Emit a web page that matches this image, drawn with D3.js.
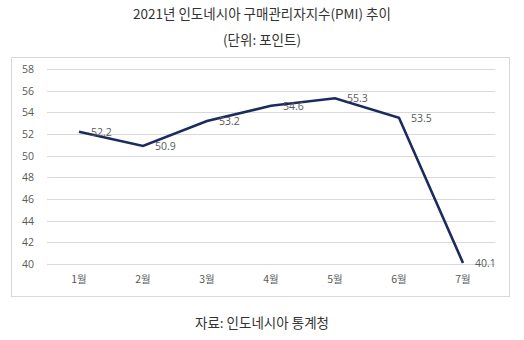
<!DOCTYPE html>
<html>
<head>
<meta charset="utf-8">
<script src="https://cdn.jsdelivr.net/npm/d3@7"></script>
<style>
  html, body { margin: 0; padding: 0; background: #fff; }
  svg { display: block; }
</style>
</head>
<body>
<svg id="chart" width="524" height="340"></svg>
<script>
// Indonesia manufacturing PMI, January–July 2021
const months = ["1월", "2월", "3월", "4월", "5월", "6월", "7월"];
const pmi = [52.2, 50.9, 53.2, 54.6, 55.3, 53.5, 40.1];
const yTicks = [40, 42, 44, 46, 48, 50, 52, 54, 56, 58];

const svg = d3.select("#chart");
const krFont = "'Noto Sans CJK KR', 'Noto Sans', sans-serif";
const numFont = "'Open Sans', 'Noto Sans', sans-serif";

// Titles
svg.append("text").attr("x", 262).attr("y", 19).attr("text-anchor", "middle")
  .attr("font-family", krFont).attr("font-size", 13.5).attr("fill", "#333")
  .text("2021년 인도네시아 구매관리자지수(PMI) 추이");
svg.append("text").attr("x", 262).attr("y", 45).attr("text-anchor", "middle")
  .attr("font-family", krFont).attr("font-size", 13.5).attr("fill", "#333")
  .text("(단위: 포인트)");

// Chart frame
svg.append("rect").attr("x", 11.5).attr("y", 57.5).attr("width", 498).attr("height", 239)
  .attr("fill", "#fff").attr("stroke", "#d9d9d9");

const x = d3.scaleBand().domain(months).range([47, 495]);
const y = d3.scaleLinear().domain([40, 58]).range([264, 69]);

// Gridlines
svg.append("g").selectAll("line").data(yTicks).join("line")
  .attr("x1", 47).attr("x2", 495)
  .attr("y1", d => Math.round(y(d)) + 0.5).attr("y2", d => Math.round(y(d)) + 0.5)
  .attr("stroke", "#d9d9d9").attr("stroke-width", 1);

// Y axis labels
const yAxis = d3.axisLeft(y).tickValues(yTicks).tickSize(0).tickPadding(0);
svg.append("g").attr("transform", "translate(34,0)").call(yAxis)
  .call(g => g.select(".domain").remove())
  .call(g => g.selectAll("text").attr("font-family", numFont).attr("font-size", 10.5).attr("fill", "#595959"));

// X axis labels
const xAxis = d3.axisBottom(x).tickSize(0).tickPadding(0);
svg.append("g").attr("transform", "translate(0,276)").call(xAxis)
  .call(g => g.select(".domain").remove())
  .call(g => g.selectAll("text").attr("font-family", krFont).attr("font-size", 10.5).attr("fill", "#595959"));

// Line
const cx = (d, i) => x(months[i]) + x.bandwidth() / 2;
const line = d3.line().x(cx).y(d => y(d));
svg.append("path").datum(pmi).attr("d", line)
  .attr("fill", "none").attr("stroke", "#1b2b5e").attr("stroke-width", 2.6)
  .attr("stroke-linejoin", "miter");

// Value labels
svg.append("g").selectAll("text").data(pmi).join("text")
  .attr("x", (d, i) => cx(d, i) + 12)
  .attr("y", d => y(d) + 1)
  .attr("dominant-baseline", "middle")
  .attr("font-family", numFont).attr("font-size", 10.5).attr("fill", "#595959")
  .text(d => d.toFixed(1));

// Source
svg.append("text").attr("x", 262).attr("y", 328).attr("text-anchor", "middle")
  .attr("font-family", krFont).attr("font-size", 13.5).attr("fill", "#333")
  .text("자료: 인도네시아 통계청");
</script>
</body>
</html>
